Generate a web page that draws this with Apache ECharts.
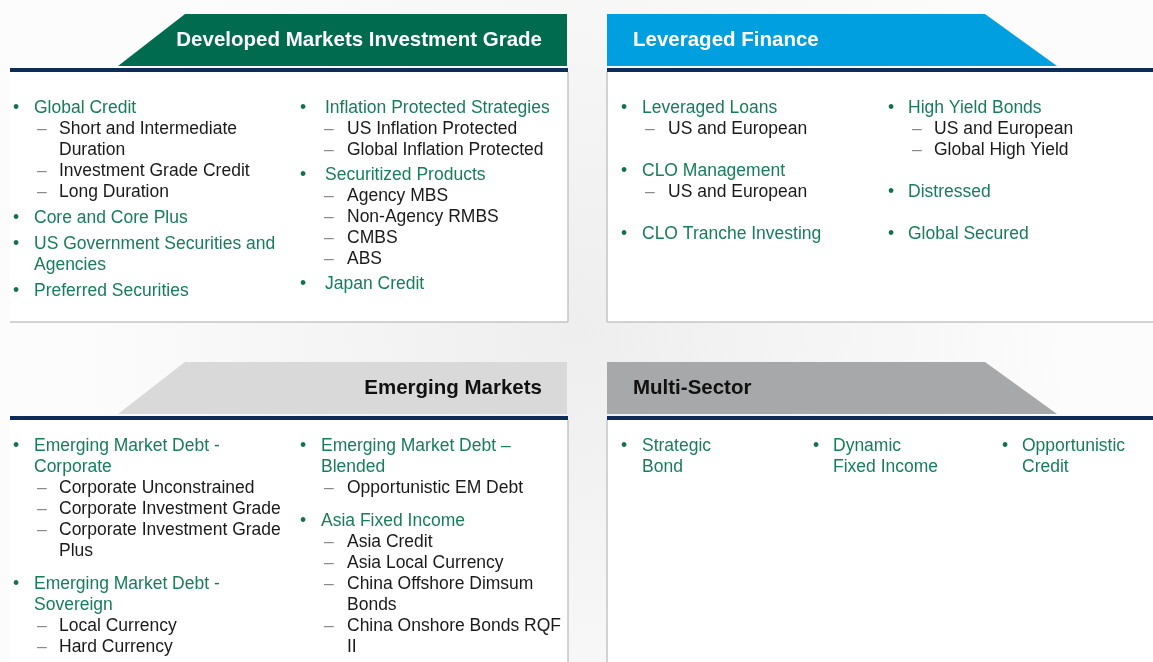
<!DOCTYPE html>
<html>
<head>
<meta charset="utf-8">
<script src="https://cdn.jsdelivr.net/npm/echarts@6/dist/echarts.min.js"></script>
<style>
  html, body { margin: 0; padding: 0; background: #fff; }
  #main { width: 1153px; height: 662px; }
</style>
</head>
<body>
<div id="main"></div>
<script>
// panel titles
const titles = ['Developed Markets Investment Grade', 'Leveraged Finance', 'Emerging Markets', 'Multi-Sector']

// each item: [strategy, [sub strategies]]
const dmigLeft = [
    ['Global Credit', ['Short and Intermediate\nDuration', 'Investment Grade Credit', 'Long Duration']],
    ['Core and Core Plus', []],
    ['US Government Securities and\nAgencies', []],
    ['Preferred Securities', []]
]
const dmigRight = [
    ['Inflation Protected Strategies', ['US Inflation Protected', 'Global Inflation Protected']],
    ['Securitized Products', ['Agency MBS', 'Non-Agency RMBS', 'CMBS', 'ABS']],
    ['Japan Credit', []]
]
const levLeft = [
    ['Leveraged Loans', ['US and European']],
    ['CLO Management', ['US and European']],
    ['CLO Tranche Investing', []]
]
const levRight = [
    ['High Yield Bonds', ['US and European', 'Global High Yield']],
    ['Distressed', []],
    ['Global Secured', []]
]
const emLeft = [
    ['Emerging Market Debt -\nCorporate', ['Corporate Unconstrained', 'Corporate Investment Grade', 'Corporate Investment Grade\nPlus']],
    ['Emerging Market Debt -\nSovereign', ['Local Currency', 'Hard Currency']]
]
const emRight = [
    ['Emerging Market Debt \u2013\nBlended', ['Opportunistic EM Debt']],
    ['Asia Fixed Income', ['Asia Credit', 'Asia Local Currency', 'China Offshore Dimsum\nBonds', 'China Onshore Bonds RQF\nII']]
]
const msCol1 = [['Strategic\nBond', []]]
const msCol2 = [['Dynamic\nFixed Income', []]]
const msCol3 = [['Opportunistic\nCredit', []]]

const FONT = "'Liberation Sans', Arial, sans-serif"
const FS = '17.5px '
const GREEN_TXT = '#177c5c'
const LH = 21
const NAVY = '#0d2c5a'

const chart = echarts.init(document.getElementById('main'))
const els = []

// background panels
const panel = (x, y, w, h, side) => {
    els.push({ type: 'rect', shape: { x, y, width: w, height: h }, style: { fill: '#fff' } })
    const bx = side === 'right' ? x + w : x
    els.push({ type: 'line', shape: { x1: bx, y1: y, x2: bx, y2: y + h }, style: { stroke: '#c4c4c4', lineWidth: 1.5 } })
    if (y < 300) els.push({ type: 'line', shape: { x1: x, y1: y + h, x2: x + w, y2: y + h }, style: { stroke: '#c4c4c4', lineWidth: 1.5 } })
}

const header = (pts, color, text, tx, ty, align, txtColor, navyX1, navyX2) => {
    els.push({ type: 'polygon', shape: { points: pts }, style: { fill: color } })
    els.push({ type: 'rect', shape: { x: navyX1, y: pts[2][1] + 2, width: navyX2 - navyX1, height: 4 }, style: { fill: NAVY } })
    els.push({
        type: 'text', x: tx, y: ty,
        style: { text, font: 'bold 20.5px ' + FONT, fill: txtColor, align, verticalAlign: 'middle' }
    })
}

// draws a column of bullets
const column = (items, y0, bx, tx, dx, sx, gap) => {
    let y = y0
    items.forEach(([name, subs]) => {
        els.push({ type: 'text', x: bx, y, style: { text: '\u2022', font: FS + FONT, fill: '#15704f', verticalAlign: 'middle' } })
        els.push({ type: 'text', x: tx, y: y - LH / 2, style: { text: name, font: FS + FONT, fill: GREEN_TXT, lineHeight: LH, verticalAlign: 'top' } })
        y += name.split('\n').length * LH
        subs.forEach(s => {
            els.push({ type: 'text', x: dx, y, style: { text: '\u2013', font: FS + FONT, fill: '#8a8a8a', verticalAlign: 'middle' } })
            els.push({ type: 'text', x: sx, y: y - LH / 2, style: { text: s, font: FS + FONT, fill: '#1a1a1a', lineHeight: LH, verticalAlign: 'top' } })
            y += s.split('\n').length * LH
        })
        y += gap
    })
}

panel(10, 72, 558, 250, 'right')
panel(607, 72, 546, 250, 'left')
panel(10, 420, 558, 242, 'right')
panel(607, 420, 546, 242, 'left')

header([[185, 14], [567, 14], [567, 66], [118, 66]], '#006b4e', titles[0], 542, 40, 'right', '#fff', 10, 568)
header([[607, 14], [985, 14], [1057, 66], [607, 66]], '#009fdf', titles[1], 633, 40, 'left', '#fff', 607, 1153)
header([[185, 362], [567, 362], [567, 414], [118, 414]], '#d9d9d9', titles[2], 542, 388, 'right', '#111', 10, 568)
header([[607, 362], [985, 362], [1057, 414], [607, 414]], '#a7a8aa', titles[3], 633, 388, 'left', '#111', 607, 1153)

column(dmigLeft, 108, 13, 34, 37, 59, 5)
column(dmigRight, 108, 300, 325, 324, 347, 4)
column(levLeft, 108, 621, 642, 645, 668, 21)
column(levRight, 108, 888, 908, 912, 934, 21)
column(emLeft, 446, 13, 34, 37, 59, 12)
column(emRight, 446, 300, 321, 324, 347, 12)
column(msCol1, 446, 621, 642, 645, 668, 0)
column(msCol2, 446, 813, 833, 837, 858, 0)
column(msCol3, 446, 1002, 1022, 1026, 1048, 0)

chart.setOption({
    backgroundColor: {
        type: 'radial', x: 0.5, y: 0.5, r: 0.75,
        colorStops: [{ offset: 0, color: '#eeeeee' }, { offset: 1, color: '#fcfcfc' }]
    },
    graphic: { elements: els }
})
window.addEventListener('resize', () => chart.resize())
</script>
</body>
</html>
